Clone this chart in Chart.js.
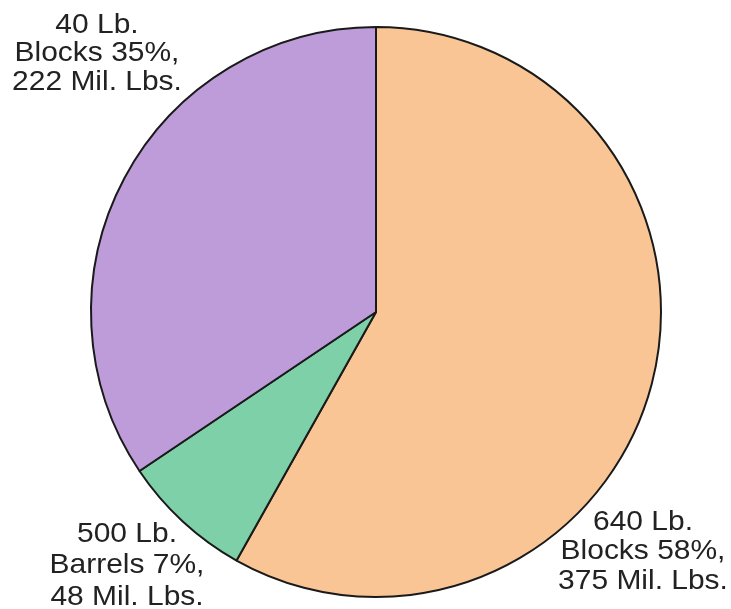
<!DOCTYPE html>
<html>
<head>
<meta charset="utf-8">
<script src="https://cdn.jsdelivr.net/npm/chart.js@4"></script>
<style>
  html, body { margin: 0; padding: 0; background: #fff; }
  #wrap { width: 731px; height: 609px; }
</style>
</head>
<body>
<div id="wrap"><canvas id="myChart" width="731" height="609"></canvas></div>
<script>
const sizes = ['640 Lb.', '500 Lb.', '40 Lb.'];
const kinds = ['Blocks', 'Barrels', 'Blocks'];
const volumes = [375, 48, 222];
const percents = [58, 7, 35];
const colors = ['#F9C594', '#7DD0A8', '#BE9CDA'];

// where each label block sits (center x, middle of first line, line step)
const labelSpots = [
    { x: 643, y: 522, step: 29.5 },
    { x: 127, y: 534, step: 31.5 },
    { x: 97, y: 25, step: 28.5 }
];

const outsideLabels = {
    id: 'outsideLabels',
    afterDraw(chart) {
        const ctx = chart.ctx;
        ctx.save();
        ctx.font = '28px "Liberation Sans", Arial, sans-serif';
        ctx.fillStyle = '#222';
        ctx.textAlign = 'center';
        ctx.textBaseline = 'middle';
        sizes.forEach((s, i) => {
            const spot = labelSpots[i];
            const lines = [s, `${kinds[i]} ${percents[i]}%,`, `${volumes[i]} Mil. Lbs.`];
            lines.forEach((t, j) => {
                ctx.save();
                ctx.translate(spot.x, spot.y + j * spot.step);
                ctx.scale(1.07, 1);
                ctx.fillText(t, 0, 0);
                ctx.restore();
            });
        });
        ctx.restore();
    }
};

const myChart = document.getElementById('myChart').getContext('2d');
new Chart(myChart, {
    type: 'pie',
    data: {
        labels: sizes.map((s, i) => `${s} ${kinds[i]}`),
        datasets: [{
            data: volumes,
            backgroundColor: colors,
            borderColor: '#1a1a1a',
            borderWidth: 2
        }]
    },
    options: {
        responsive: false,
        animation: false,
        layout: { padding: { left: 90, right: 69, top: 26, bottom: 11 } },
        plugins: {
            legend: { display: false },
            tooltip: { enabled: false }
        }
    },
    plugins: [outsideLabels]
});
</script>
</body>
</html>
